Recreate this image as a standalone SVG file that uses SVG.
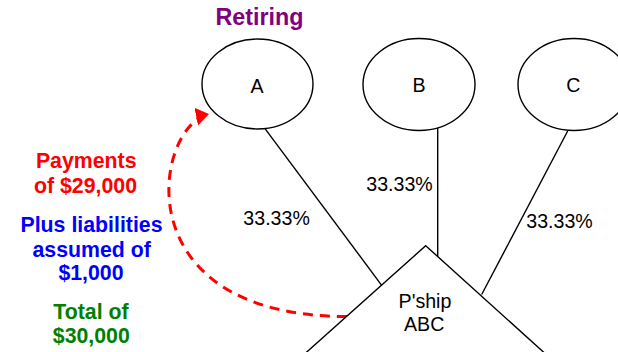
<svg xmlns="http://www.w3.org/2000/svg" width="618" height="352" viewBox="0 0 618 352">
  <style>
    .shape { fill: #ffffff; stroke: #000000; stroke-width: 1.4; }
    .link { fill: none; stroke: #000000; stroke-width: 1.4; }
    .lbl { font-family: "Liberation Sans", Arial, sans-serif; font-size: 19.6px; fill: #000000; text-anchor: middle; }
    .note { font-family: "Liberation Sans", Arial, sans-serif; font-size: 21.3px; font-weight: bold; text-anchor: middle; }
    .flow { fill: none; stroke: #ff0000; stroke-width: 3; stroke-dasharray: 10 7; }
  </style>
  <defs>
    <marker id="redHead" markerUnits="userSpaceOnUse" markerWidth="20" markerHeight="20" refX="13" refY="9" orient="auto">
      <path d="M0,0 L13,9 L0,18 Z" fill="#ff0000"/>
    </marker>
  </defs>

  <rect width="618" height="352" fill="#ffffff"/>

  <!-- ownership lines from partners to the partnership -->
  <g id="connectors">
    <line class="link" x1="265" y1="128.6" x2="381.7" y2="285.3"/>
    <line class="link" x1="437.7" y1="128" x2="437.7" y2="256.6"/>
    <line class="link" x1="567.7" y1="131" x2="481.7" y2="294.5"/>
    <text class="lbl" x="276.6" y="225">33.33%</text>
    <text class="lbl" x="399.5" y="190.7">33.33%</text>
    <text class="lbl" x="559.5" y="228.3">33.33%</text>
    <path class="flow" d="M347,316.6 C120,316 155,125 209,114" marker-end="url(#redHead)"/>
  </g>

  <g id="partnership">
    <polygon class="shape" points="425.7,245.7 560,367 290,367"/>
    <text class="lbl" x="425" y="308.3">P'ship</text>
    <text class="lbl" x="424.2" y="330.7">ABC</text>
  </g>

  <g id="partnerA">
    <text class="note" x="259.5" y="25" fill="#800080" style="font-size:23.3px">Retiring</text>
    <ellipse class="shape" cx="257.5" cy="84" rx="55.5" ry="45"/>
    <text class="lbl" x="257" y="93">A</text>
  </g>

  <g id="partnerB">
    <ellipse class="shape" cx="419" cy="84.5" rx="56" ry="46"/>
    <text class="lbl" x="419" y="91.7">B</text>
  </g>

  <g id="partnerC">
    <ellipse class="shape" cx="574" cy="84.5" rx="56" ry="46"/>
    <text class="lbl" x="573.3" y="91.7">C</text>
  </g>

  <g id="consideration">
    <text class="note" fill="#ff0000" x="86.2" y="168.3">Payments</text>
    <text class="note" fill="#ff0000" x="85.5" y="193.3">of $29,000</text>
    <text class="note" fill="#0000ff" x="91.5" y="231.7">Plus liabilities</text>
    <text class="note" fill="#0000ff" x="91.7" y="256.7">assumed of</text>
    <text class="note" fill="#0000ff" x="91" y="280">$1,000</text>
    <text class="note" fill="#008000" x="91" y="319">Total of</text>
    <text class="note" fill="#008000" x="91.3" y="343.3">$30,000</text>
  </g>
</svg>
